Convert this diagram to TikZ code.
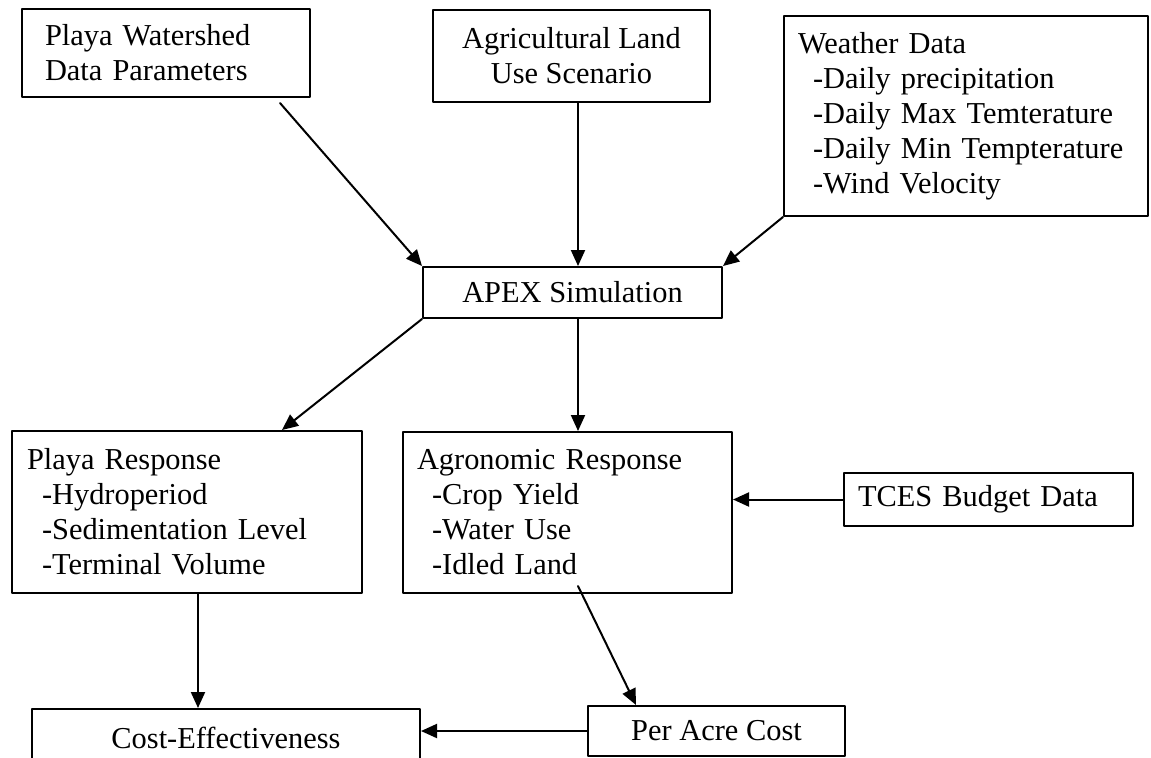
\documentclass[tikz,border=0pt]{standalone}
\usepackage{fontspec}
\setmainfont{Liberation Serif}
\usetikzlibrary{arrows.meta,calc}
\begin{document}
\begin{tikzpicture}[x=0.5pt,y=-0.5pt,line cap=round,line join=round,
    box/.style={draw,line width=1pt,font=\fontsize{15.2}{17.5}\selectfont,inner ysep=0pt},
    listbox/.style={box,align=left},
    arr/.style={line width=1pt,-{Triangle[length=8pt,width=7pt]}}]
  \useasboundingbox (0,0) rectangle (1151,757);
  \def\ind{\hspace*{7.5pt}}
  % inputs
  \node[listbox,inner xsep=11.5pt,text width=121pt,minimum height=44pt] (wshed) at (166,53)
    {Playa Watershed\\Data Parameters};
  \node[box,align=center,minimum width=138.5pt,minimum height=46pt] (landuse) at (571.5,56)
    {Agricultural Land\\Use Scenario};
  \node[listbox,inner xsep=7pt,text width=168pt,minimum height=100pt] (weather) at (966,116)
    {Weather Data\\\ind-Daily precipitation\\\ind-Daily Max Temterature\\\ind-Daily Min Tempterature\\\ind-Wind Velocity};
  \node[box,minimum width=149.5pt,minimum height=25.5pt] (apex) at (572.5,292.5) {APEX Simulation};
  % responses
  \node[listbox,inner xsep=7.5pt,text width=160pt,minimum height=81pt] (playa) at (187,512)
    {Playa Response\\\ind-Hydroperiod\\\ind-Sedimentation Level\\\ind-Terminal Volume};
  \node[listbox,inner xsep=7pt,text width=150.5pt,minimum height=80.5pt] (agro) at (567.5,512.5)
    {Agronomic Response\\\ind-Crop Yield\\\ind-Water Use\\\ind-Idled Land};
  \node[listbox,inner xsep=7pt,text width=130.5pt,minimum height=26.5pt] (tces) at (988.5,499.5)
    {TCES Budget Data};
  \node[box,minimum width=194pt,minimum height=29pt] (cost) at (226,738) {Cost-Effectiveness};
  \node[box,minimum width=128.5pt,minimum height=25pt] (acre) at (716.5,731) {Per Acre Cost};

  \coordinate (in) at ($(apex.north)+(5.5,0)$);
  \coordinate (out) at ($(apex.south)+(5.5,0)$);
  \coordinate (down) at ($(playa.south)+(11,0)$);
  \draw[arr] ($(wshed.south east)+(-31,5)$) -- (apex.north west);
  \draw[arr] (in |- landuse.south) -- (in);
  \draw[arr] (weather.south west) -- (apex.north east);
  \draw[arr] (apex.south west) -- ($(playa.north east)+(-81,0)$);
  \draw[arr] (out) -- (out |- agro.north);
  \draw[arr] (tces.west) -- (tces.west -| agro.east);
  \draw[arr] (down) -- (down |- cost.north);
  \draw[arr] ($(agro.south)+(10.5,-8)$) -- ($(acre.north)+(-80.5,0)$);
  \draw[arr] (acre.west) -- (acre.west -| cost.east);
\end{tikzpicture}
\end{document}
